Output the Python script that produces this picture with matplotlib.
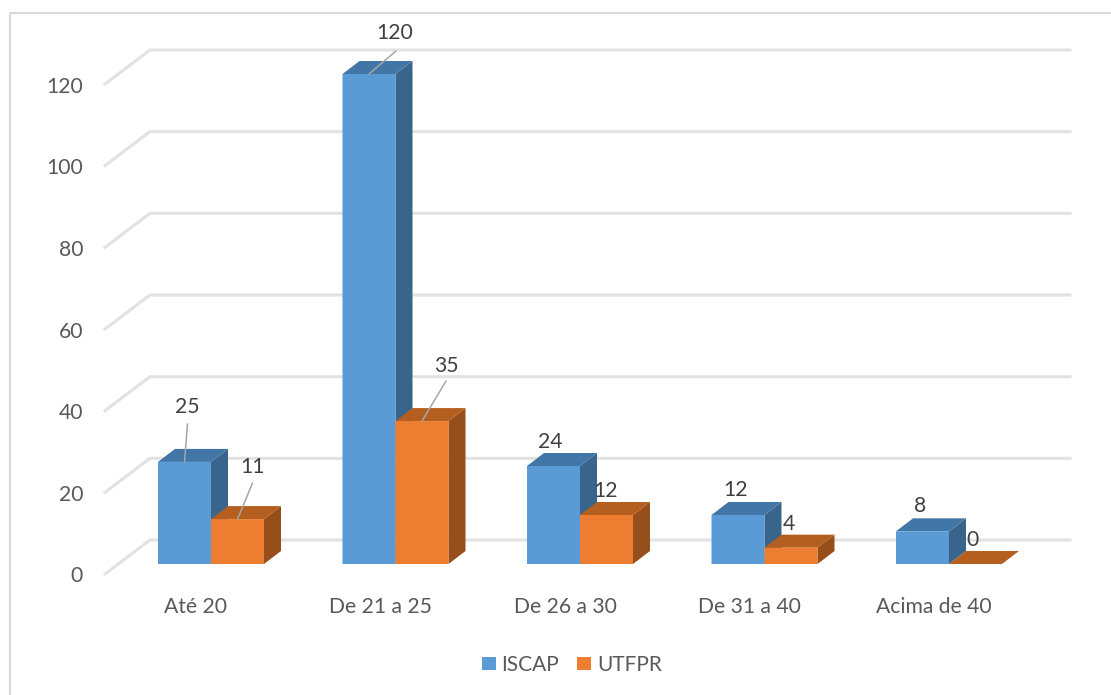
import matplotlib
matplotlib.use("Agg")
import matplotlib.pyplot as plt
from matplotlib.lines import Line2D
from matplotlib.patches import Polygon, Rectangle
from matplotlib.transforms import ScaledTranslation

plt.rcParams["font.family"] = ["Lato", "DejaVu Sans"]

# Data
categories = ["Até 20", "De 21 a 25", "De 26 a 30", "De 31 a 40", "Acima de 40"]
iscap = [25, 120, 24, 12, 8]
utfpr = [11, 35, 12, 4, 0]
y_ticks = [0, 20, 40, 60, 80, 100, 120]

# label offsets from the top centre of each bar, in pixels (dx, dy up)
iscap_label_off = [(3, 55), (26, 41), (-3, 24), (-2, 25), (-2, 25)]
utfpr_label_off = [(15, 52), (24, 55), (-1, 24), (-2, 24), (-3, 24)]
iscap_leader = [(3, 38), (27, 23), None, None, None]
utfpr_leader = [(15, 36), (24, 40), None, None, None]

# Layout in pixels
W, H = 1111, 695
ax_left, ax_right = 105, 1070
ax_bottom, ax_top = 574, 20
base_px, top_px = 564, 74      # value 0 and value 120 on the front plane
first_px, step_px = 211, 184.5  # centre of the first group, group spacing
bar_px = 53
depth_x_px, depth_y_px = 17, 13
wall_x_px, wall_y_px = 45, 34

px_per_val = (base_px - top_px) / 120

fig = plt.figure(figsize=(W / 100, H / 100), dpi=100, facecolor="white")
ax = fig.add_axes([ax_left / W, 1 - ax_bottom / H,
                   (ax_right - ax_left) / W, (ax_bottom - ax_top) / H])
ax.set_xlim((ax_left - first_px) / step_px, (ax_right - first_px) / step_px)
ax.set_ylim((base_px - ax_bottom) / px_per_val, (base_px - ax_top) / px_per_val)
ax.patch.set_visible(False)
for s in ax.spines.values():
    s.set_visible(False)

bw = bar_px / step_px
dx = depth_x_px / step_px
dy = depth_y_px / px_per_val
wall_dx = wall_x_px / step_px
wall_dy = wall_y_px / px_per_val
x0 = ax.get_xlim()[0]

# Chart frame, only top and left show in the picture
fig.add_artist(Line2D([10 / W, 10 / W, 1], [0, 1 - 13 / H, 1 - 13 / H],
                      color="#D9D9D9", lw=1.5, transform=fig.transFigure))

# Floor and back wall gridlines
grid_col = "#E2E2E2"
for v in y_ticks:
    start = v + (base_px - ax_bottom) / px_per_val
    ax.plot([x0, x0 + wall_dx, ax.get_xlim()[1]],
            [start, start + wall_dy, start + wall_dy],
            color=grid_col, lw=2.2, solid_joinstyle="miter", zorder=1, clip_on=False)


def draw_bar(x, val, front, top, side, z):
    l, r = x, x + bw
    if val > 0:
        ax.add_patch(Polygon([(r, 0), (r + dx, dy), (r + dx, val + dy), (r, val)],
                             facecolor=side, edgecolor="none", zorder=z, snap=False))
        ax.add_patch(Rectangle((l, 0), bw, val, facecolor=front,
                               edgecolor="none", zorder=z + 0.2, snap=False))
    ax.add_patch(Polygon([(l, val), (r, val), (r + dx, val + dy), (l + dx, val + dy)],
                         facecolor=top, edgecolor="none", zorder=z + 0.1, snap=False))


label_col = "#404040"
label_size = 15.2
pt = 72 / 100  # points per pixel at dpi 100


def draw_label(x, val, off, leader):
    ax.annotate(str(val), xy=(x, val), xytext=(off[0] * pt, off[1] * pt),
                textcoords="offset points", ha="center", va="center",
                color=label_col, fontsize=label_size, zorder=10)
    if leader is not None:
        ax.annotate("", xy=(x, val), xytext=(leader[0] * pt, leader[1] * pt),
                    textcoords="offset points", zorder=9,
                    arrowprops=dict(arrowstyle="-", color="#A6A6A6", lw=1.1,
                                    shrinkA=0, shrinkB=0))


for i, cat in enumerate(categories):
    draw_bar(i - bw, iscap[i], "#5B9BD5", "#4276A6", "#39648C", 3 + i)
    draw_bar(i, utfpr[i], "#ED7D31", "#B45F1F", "#964F1B", 3.5 + i)
    draw_label(i - bw / 2, iscap[i], iscap_label_off[i], iscap_leader[i])
    draw_label(i + bw / 2, utfpr[i], utfpr_label_off[i], utfpr_leader[i])

# Axis labels
ax.set_xticks(range(len(categories)))
ax.set_xticklabels(categories)
ax.set_yticks(y_ticks)
ax.tick_params(axis="both", length=0, labelsize=15.2, labelcolor="#595959")
ax.tick_params(axis="y", pad=22 * pt)
ax.tick_params(axis="x", pad=23 * pt)
shift_y = ScaledTranslation(0, -10.5 / 100, fig.dpi_scale_trans)
for lab in ax.get_yticklabels():
    lab.set_transform(lab.get_transform() + shift_y)
shift_x = ScaledTranslation(-15 / 100, 0, fig.dpi_scale_trans)
for lab in ax.get_xticklabels():
    lab.set_transform(lab.get_transform() + shift_x)

# Legend
handles = [Rectangle((0, 0), 1, 1, facecolor="#5B9BD5"),
           Rectangle((0, 0), 1, 1, facecolor="#ED7D31")]
fig.legend(handles, ["ISCAP", "UTFPR"], loc="center", ncol=2, frameon=False,
           bbox_to_anchor=(572 / W, 1 - 665 / H), fontsize=15,
           labelcolor="#595959", handlelength=0.67, handleheight=0.58,
           handletextpad=0.29, columnspacing=0.87)

fig.savefig("out.png", dpi=100)
